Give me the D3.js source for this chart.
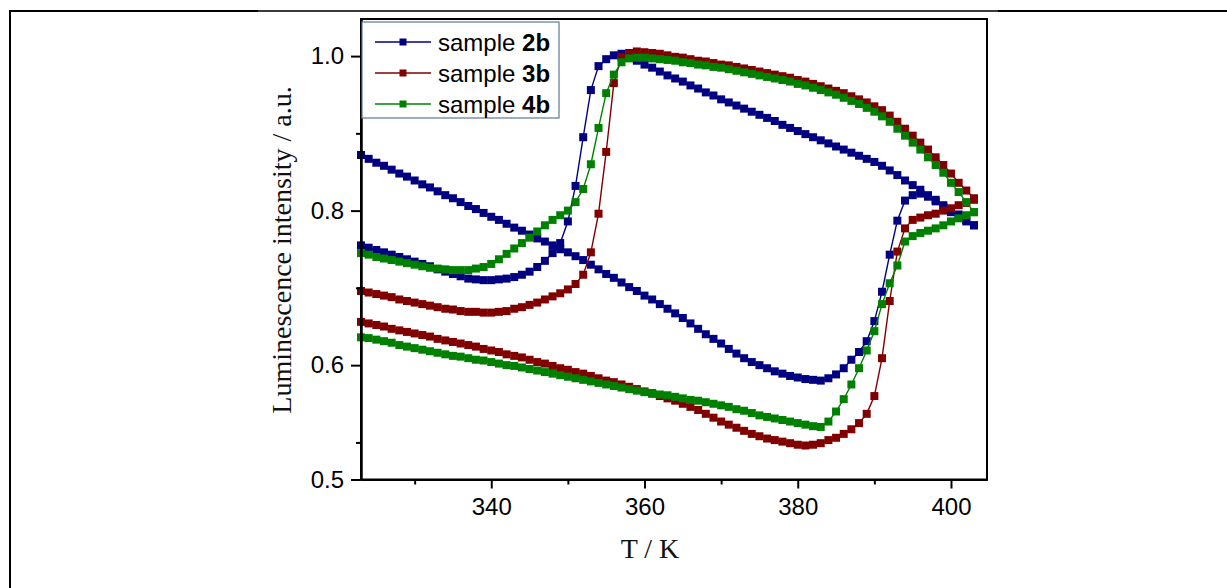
<!DOCTYPE html>
<html>
<head>
<meta charset="utf-8">
<script src="https://cdn.jsdelivr.net/npm/d3@7"></script>
<style>
  body { margin: 0; background: #fff; }
  svg { display: block; }
</style>
</head>
<body>
<div id="chart"></div>
<script>
// temperatures (K), one reading per kelvin
var temps = [323,324,325,326,327,328,329,330,331,332,
  333,334,335,336,337,338,339,340,341,342,
  343,344,345,346,347,348,349,350,351,352,
  353,354,355,356,357,358,359,360,361,362,
  363,364,365,366,367,368,369,370,371,372,
  373,374,375,376,377,378,379,380,381,382,
  383,384,385,386,387,388,389,390,391,392,
  393,394,395,396,397,398,399,400,401,402,
  403];

// sample 2b
var heat2b = [.755,.752,.749,.746,.743,.740,.737,.734,.731,.728,
  .724,.721,.718,.715,.712,.711,.710,.710,.711,.712,
  .714,.717,.721,.727,.735,.745,.758,.786,.832,.895,
  .956,.987,.996,1.001,1.003,.998,.994,.989,.985,.980,
  .975,.971,.967,.962,.958,.953,.949,.944,.940,.936,
  .932,.928,.924,.920,.916,.911,.907,.903,.899,.895,
  .891,.887,.883,.879,.875,.871,.867,.863,.858,.852,
  .846,.839,.833,.827,.820,.814,.807,.801,.795,.788,
  .781];
var cool2b = [.872,.867,.862,.858,.853,.848,.844,.839,.834,.830,
  .825,.820,.816,.811,.806,.802,.797,.792,.788,.783,
  .778,.774,.769,.764,.760,.755,.750,.746,.741,.736,
  .730,.724,.718,.713,.707,.701,.696,.690,.685,.679,
  .673,.667,.661,.654,.647,.640,.634,.628,.621,.615,
  .609,.604,.600,.596,.592,.589,.586,.584,.582,.581,
  .580,.583,.588,.596,.607,.617,.631,.657,.695,.743,
  .787,.813,.820,.822,.818,.812,.805,.798,.792,.786,
  .781];

// sample 3b
var heat3b = [.696,.694,.692,.690,.688,.685,.683,.681,.679,.677,
  .675,.673,.672,.670,.669,.669,.668,.668,.669,.670,
  .673,.675,.678,.681,.685,.689,.693,.698,.705,.717,
  .746,.796,.876,.965,.999,1.004,1.006,1.005,1.004,1.003,
  1.001,.999,.998,.996,.994,.993,.991,.989,.988,.986,
  .984,.982,.980,.978,.976,.974,.972,.969,.967,.964,
  .961,.958,.955,.952,.948,.944,.940,.935,.930,.923,
  .915,.906,.897,.888,.879,.869,.859,.848,.836,.826,
  .816];
var cool3b = [.656,.654,.652,.650,.647,.645,.643,.641,.639,.637,
  .634,.632,.630,.628,.626,.624,.621,.619,.617,.614,
  .612,.610,.607,.604,.602,.599,.596,.594,.591,.589,
  .586,.583,.580,.578,.575,.572,.569,.566,.563,.560,
  .557,.554,.550,.546,.542,.537,.532,.527,.523,.519,
  .515,.511,.508,.505,.503,.501,.499,.497,.496,.497,
  .499,.503,.506,.511,.517,.525,.537,.560,.609,.683,
  .747,.777,.788,.791,.794,.796,.800,.803,.807,.810,
  .814];

// sample 4b
var heat4b = [.745,.743,.740,.738,.736,.734,.732,.730,.728,.726,
  .725,.724,.723,.723,.723,.725,.727,.731,.737,.744,
  .751,.758,.765,.773,.781,.788,.794,.800,.811,.828,
  .860,.907,.952,.976,.992,.997,.998,.998,.997,.996,
  .995,.994,.992,.991,.989,.988,.986,.985,.983,.981,
  .979,.977,.975,.973,.971,.969,.967,.964,.962,.959,
  .956,.953,.950,.946,.942,.938,.933,.928,.922,.915,
  .906,.897,.888,.879,.869,.859,.849,.836,.824,.811,
  .798];
var cool4b = [.636,.635,.633,.631,.629,.626,.624,.622,.620,.618,
  .616,.614,.612,.611,.609,.607,.606,.604,.602,.600,
  .599,.597,.595,.593,.591,.589,.587,.585,.583,.581,
  .579,.577,.575,.573,.571,.569,.567,.565,.564,.562,
  .561,.559,.557,.555,.554,.552,.550,.548,.546,.543,
  .541,.538,.535,.533,.531,.529,.527,.525,.523,.521,
  .520,.527,.540,.556,.575,.596,.619,.644,.679,.706,
  .729,.760,.767,.771,.774,.777,.781,.786,.790,.794,
  .798];

var sampleIds = ["2b", "3b", "4b"];

// axis ticks
var xTicks = [340, 360, 380, 400];
var xMinorTicks = [330, 350, 370, 390];
var yTicks = [0.452, 0.6, 0.8, 1.0];   // axis starts at 0.452, printed with one decimal
var yMinorTicks = [0.5, 0.7, 0.9];

var colors = ["#000080", "#800000", "#008000"];
var heats = [heat2b, heat3b, heat4b];
var cools = [cool2b, cool3b, cool4b];

var svgWidth = 1227;
var svgHeight = 588;

var margin = { top: 19, left: 361, right: 240, bottom: 108.5 };
var width = svgWidth - margin.left - margin.right;
var height = svgHeight - margin.top - margin.bottom;

var svg = d3.select("#chart")
    .append("svg")
    .attr("width", svgWidth)
    .attr("height", svgHeight);

// page frame (top and left edge)
svg.append("line")
    .attr("x1", 10).attr("y1", 11).attr("x2", svgWidth).attr("y2", 11)
    .attr("stroke", "#000").attr("stroke-width", 2);
svg.append("line")
    .attr("x1", 258).attr("y1", 11).attr("x2", 998).attr("y2", 11)
    .attr("stroke", "#3a3a3a").attr("stroke-width", 2);
svg.append("line")
    .attr("x1", 10).attr("y1", 10).attr("x2", 10).attr("y2", svgHeight)
    .attr("stroke", "#000").attr("stroke-width", 2);

var chartGroup = svg.append("g")
    .attr("transform", `translate(${margin.left}, ${margin.top})`);

var xScale = d3.scaleLinear()
    .domain([323, 404.7])
    .range([0, width]);

var yScale = d3.scaleLinear()
    .domain([0.452, 1.048])
    .range([height, 0]);

// build one point list per sample: heating run, then cooling run back down
var series = sampleIds.map(function(id, i) {
    var pts = temps.map(function(t, j) { return { t: t, v: heats[i][j] }; });
    var back = temps.map(function(t, j) { return { t: t, v: cools[i][j] }; }).reverse();
    return { id: id, color: colors[i], points: pts.concat(back) };
});

var line = d3.line()
    .x(d => xScale(d.t))
    .y(d => yScale(d.v));

var ms = 8;

series.forEach(function(s) {
    var g = chartGroup.append("g");
    g.append("path")
        .datum(s.points)
        .attr("d", line)
        .attr("fill", "none")
        .attr("stroke", s.color)
        .attr("stroke-width", 1.4);
    g.selectAll("rect")
        .data(s.points)
        .enter()
        .append("rect")
        .attr("x", d => xScale(d.t) - ms / 2)
        .attr("y", d => yScale(d.v) - ms / 2)
        .attr("width", ms)
        .attr("height", ms)
        .attr("fill", s.color);
});

// plot box
chartGroup.append("rect")
    .attr("x", 0).attr("y", 0)
    .attr("width", width).attr("height", height)
    .attr("fill", "none")
    .attr("stroke", "#000")
    .attr("stroke-width", 2);

// axes
var xAxis = d3.axisBottom(xScale).tickValues(xTicks).tickSize(9).tickSizeOuter(0).tickPadding(9);
var xMinor = d3.axisBottom(xScale).tickValues(xMinorTicks).tickSize(5).tickSizeOuter(0).tickFormat("");
var yAxis = d3.axisLeft(yScale).tickValues(yTicks).tickSize(10).tickSizeOuter(0).tickPadding(7)
    .tickFormat(d3.format(".1f"));
var yMinor = d3.axisLeft(yScale).tickValues(yMinorTicks).tickSize(5).tickSizeOuter(0).tickFormat("");

var axes = [
    chartGroup.append("g").attr("transform", `translate(0, ${height})`).call(xAxis),
    chartGroup.append("g").attr("transform", `translate(0, ${height})`).call(xMinor),
    chartGroup.append("g").call(yAxis),
    chartGroup.append("g").call(yMinor)
];
axes.forEach(function(a) {
    a.select(".domain").attr("stroke-width", 2);
    a.selectAll(".tick line").attr("stroke-width", 2);
    a.selectAll("text")
        .attr("font-family", "'Liberation Sans', Arial, sans-serif")
        .attr("font-size", "24px")
        .attr("fill", "#000");
});

// axis titles
chartGroup.append("text")
    .attr("transform", "rotate(-90)")
    .attr("x", 0 - (250 - margin.top))
    .attr("y", 291 - margin.left)
    .attr("text-anchor", "middle")
    .attr("font-family", "'Liberation Serif', 'Times New Roman', serif")
    .attr("font-size", "28px")
    .attr("fill", "#111")
    .text("Luminescence intensity / a.u.");

chartGroup.append("text")
    .attr("x", 650 - margin.left)
    .attr("y", 558 - margin.top)
    .attr("text-anchor", "middle")
    .attr("font-family", "'Liberation Serif', 'Times New Roman', serif")
    .attr("font-size", "28px")
    .attr("fill", "#111")
    .text("T / K");

// legend
var legend = svg.append("g").attr("transform", "translate(362, 22)");
legend.append("rect")
    .attr("width", 197).attr("height", 96)
    .attr("fill", "#fff")
    .attr("stroke", "#5a7a9a")
    .attr("stroke-width", 1.2);

var rows = legend.selectAll(".row")
    .data(series)
    .enter()
    .append("g")
    .attr("class", "row")
    .attr("transform", (d, i) => `translate(0, ${20 + i * 31})`);

rows.append("line")
    .attr("x1", 13).attr("x2", 69)
    .attr("stroke", d => d.color)
    .attr("stroke-width", 1.6);
rows.append("rect")
    .attr("x", 41 - 3.5).attr("y", -3.5)
    .attr("width", 7).attr("height", 7)
    .attr("fill", d => d.color);

var labels = rows.append("text")
    .attr("x", 76)
    .attr("y", 9)
    .attr("font-family", "'Liberation Sans', Arial, sans-serif")
    .attr("font-size", "24px")
    .attr("fill", "#000");
labels.append("tspan").text("sample ");
labels.append("tspan").attr("font-weight", "bold").text(d => d.id);
</script>
</body>
</html>
